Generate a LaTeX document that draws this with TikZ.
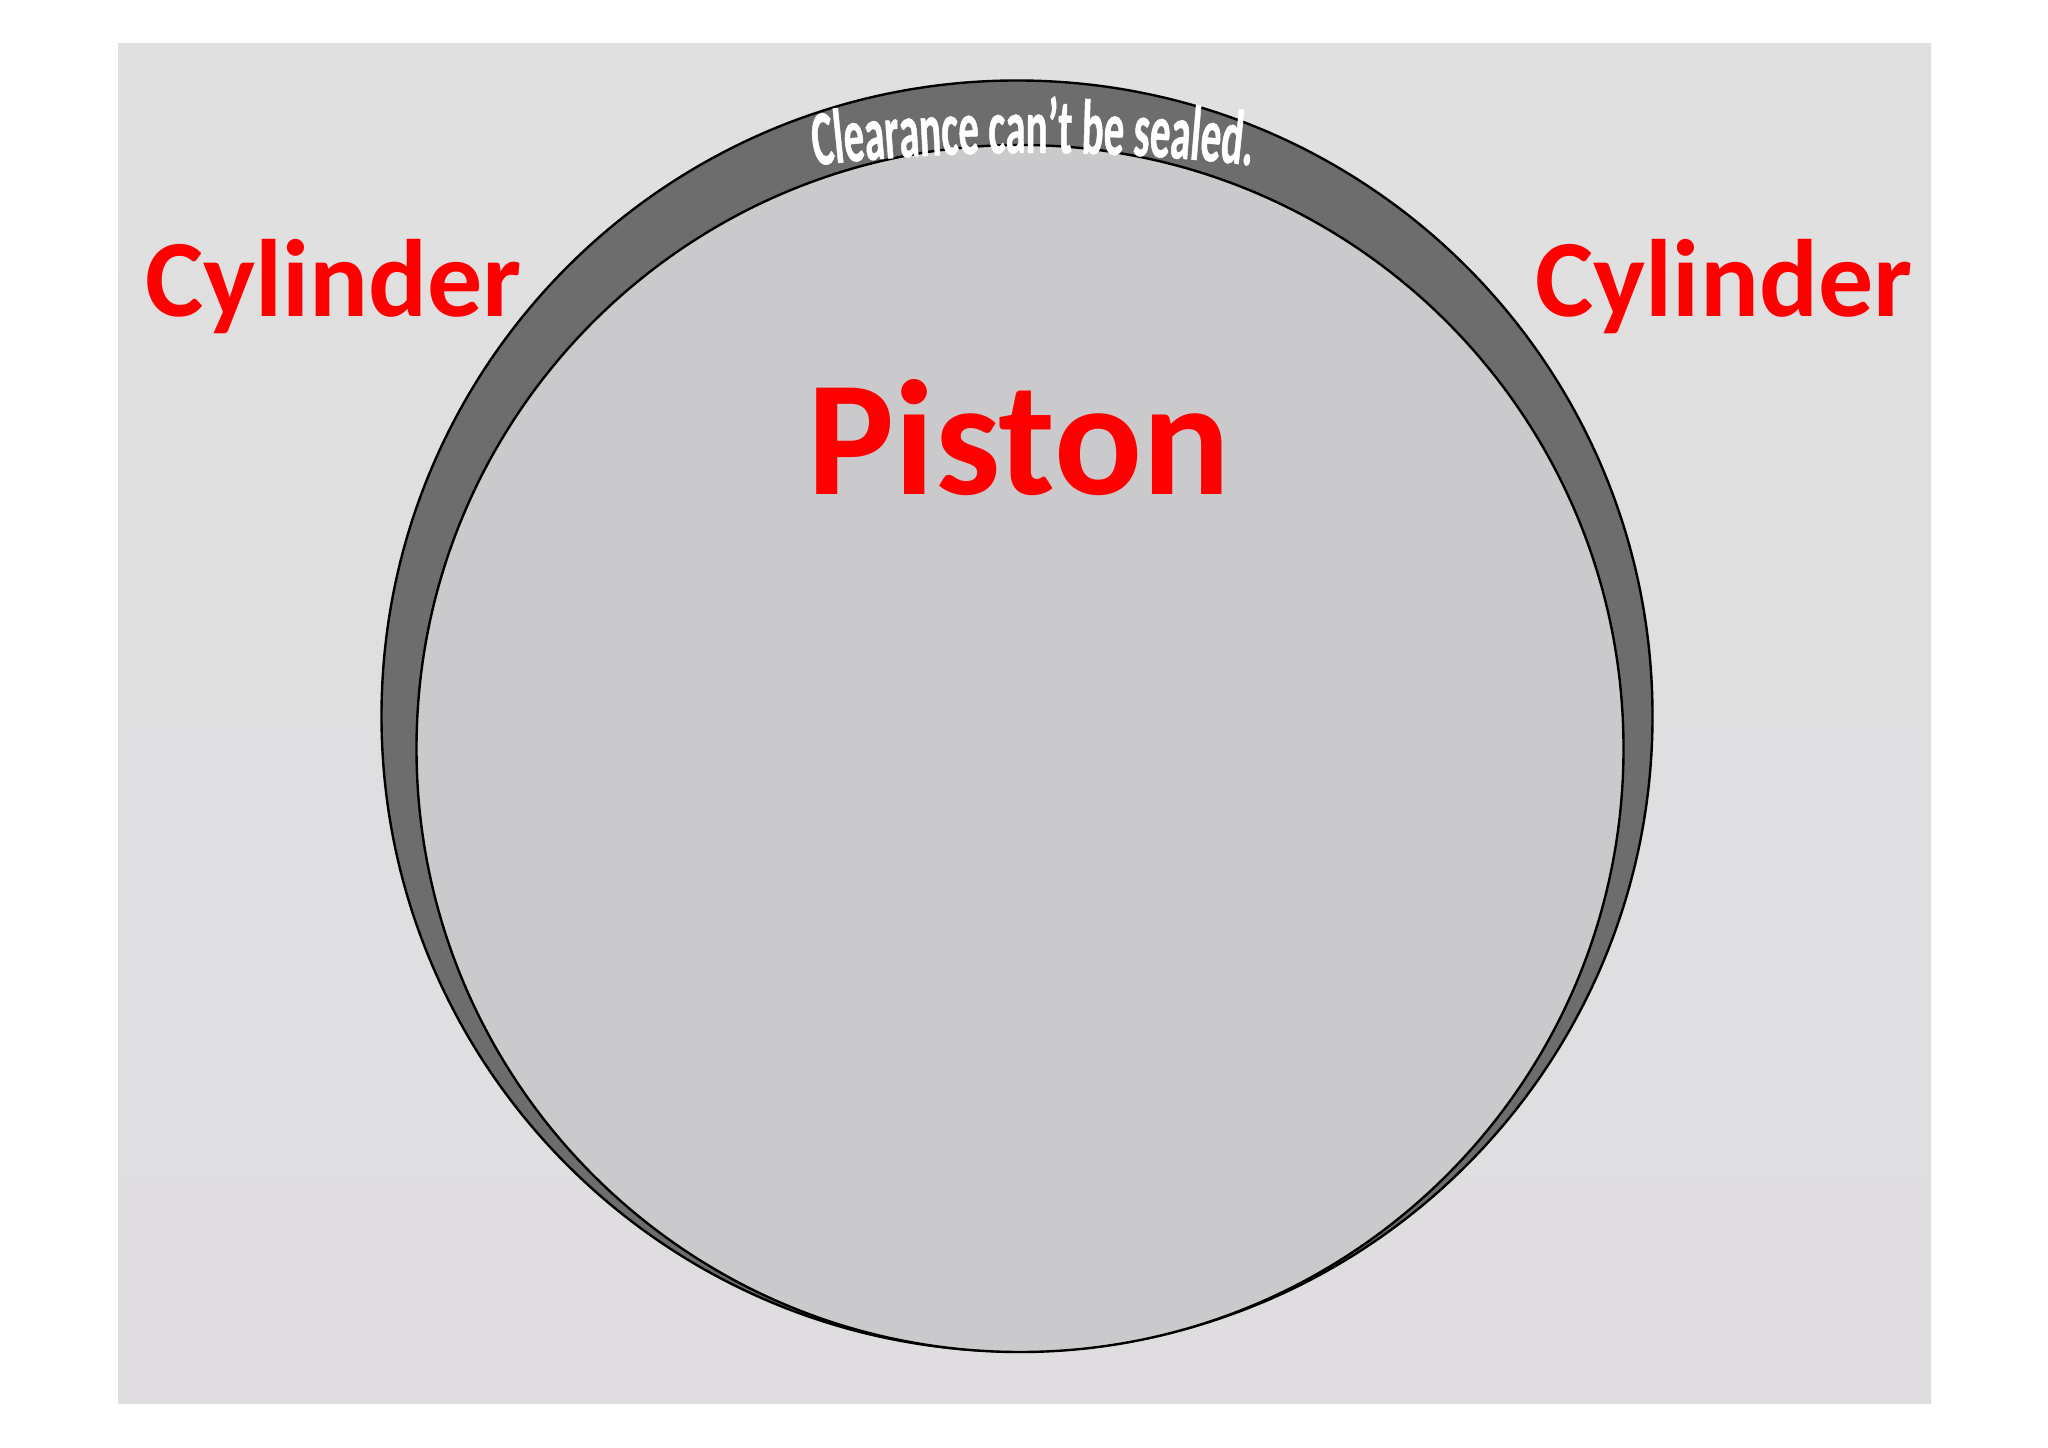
\documentclass[tikz,border=0pt]{standalone}
\usepackage{fontspec}
\usetikzlibrary{decorations.text}
\setmainfont{Carlito}
\newfontfamily\archfont[FakeStretch=0.52,FakeBold=0.6]{Carlito Bold}
\definecolor{bgtop}{HTML}{E0E0E0}
\definecolor{bgbot}{HTML}{DFDDE0}
\definecolor{gapgray}{HTML}{6D6D6E}
\definecolor{pistongray}{HTML}{CAC9CB}
\tikzset{
  bore/.style={circle,draw=black,line width=1.2pt,inner sep=0pt,outer sep=0pt},
  redlabel/.style={text=red,font=\bfseries\fontsize{55}{60}\selectfont,inner sep=0pt,anchor=base},
  biglabel/.style={text=red,font=\bfseries\fontsize{82}{86}\selectfont,inner sep=0pt,anchor=base}
}
\begin{document}
\begin{tikzpicture}[x=0.5pt,y=0.5pt]
\useasboundingbox (0,0) rectangle (2048,1447);
\fill[white] (0,0) rectangle (2048,1447);
\shade[top color=bgtop,bottom color=bgbot] (118,44) rectangle (1931,1403);
\node[bore,fill=gapgray,minimum size=635.5pt] (cyl) at (1017,731) {};
\node[bore,fill=pistongray,minimum size=603.5pt] (pis) at (1020,698.5) {};
\node[redlabel] (cl) at (333.5,1130) {Cylinder};
\node[redlabel] (cr) at (1724,1130) {Cylinder};
\node[biglabel] (pl) at (1019,952.5) {Piston};
\path[postaction={decorate},decoration={text along path,text align=center,
  text={|\archfont\fontsize{39}{42}\selectfont\color{white}|Clearance can’t be sealed.}}]
  (1033,-606) ++(97:1900) arc[start angle=97,end angle=83,radius=1900];
\end{tikzpicture}
\end{document}
